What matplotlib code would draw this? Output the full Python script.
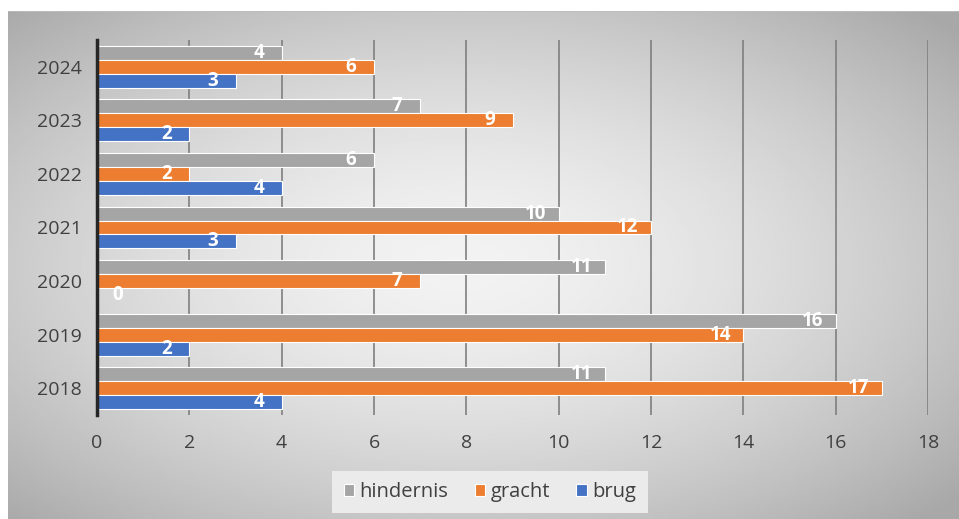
import numpy as np
import matplotlib.pyplot as plt

plt.rcParams['font.family'] = ['Open Sans', 'DejaVu Sans']

years = ['2018', '2019', '2020', '2021', '2022', '2023', '2024']
hindernis = [11, 16, 11, 10, 6, 7, 4]
gracht = [17, 14, 7, 12, 2, 9, 6]
brug = [4, 2, 0, 3, 4, 2, 3]

c_hindernis = '#a5a5a5'
c_gracht = '#ed7d31'
c_brug = '#4472c4'

fig = plt.figure(figsize=(9.59, 5.19), dpi=100)
fig.patch.set_facecolor('white')

# radial grey background of the chart box
bg = fig.add_axes([8 / 959, 0, 951 / 959, 1 - 11 / 519])
bg.set_axis_off()
yy, xx = np.mgrid[-1:1:300j, -1:1:500j]
r = np.sqrt(((xx + 0.05) / 1.0) ** 2 + (yy / 1.0) ** 2)
shade = 0.95 - 0.17 * np.clip(r, 0, 1.4) ** 1.6
bg.imshow(shade, cmap='gray', vmin=0, vmax=1, aspect='auto',
          extent=[0, 1, 0, 1], interpolation='bilinear')
bg.plot([0, 1], [1, 1], color='#bdbdbd', lw=1.2)

ax = fig.add_axes([97 / 959, 1 - 415 / 519, 831 / 959, 375 / 519])
ax.set_facecolor('none')

y = np.arange(len(years))
h = 0.26
series = [(hindernis, c_hindernis, 'hindernis', h),
          (gracht, c_gracht, 'gracht', 0),
          (brug, c_brug, 'brug', -h)]
for vals, col, name, off in series:
    bars = ax.barh(y + off, vals, height=h, color=col, edgecolor='white',
                   linewidth=0.8, label=name, zorder=3)
    for b, v in zip(bars, vals):
        xpos = max(v - 0.5, 0.45)
        ax.text(xpos, b.get_y() + h / 2, str(v), color='white',
                fontsize=13.5, fontweight='bold', ha='center', va='center',
                zorder=4)

ax.set_xlim(0, 18)
ax.set_ylim(-0.5, len(years) - 0.5)
ax.set_xticks(range(0, 19, 2))
ax.set_yticks(y)
ax.set_yticklabels(years)
ax.grid(axis='x', color='#7f7f7f', lw=1.2, zorder=1)
ax.tick_params(length=0, labelsize=14, colors='#404040')
ax.tick_params(axis='x', pad=14)
ax.tick_params(axis='y', pad=11)
for s in ['top', 'right', 'bottom']:
    ax.spines[s].set_visible(False)
ax.spines['left'].set_color('#262626')
ax.spines['left'].set_linewidth(2.5)
ax.spines['left'].set_zorder(5)

leg = fig.legend(loc='center', bbox_to_anchor=(490 / 959, 1 - 492 / 519),
                 ncol=3, frameon=True, fontsize=14.5, handlelength=0.5,
                 handleheight=0.5, handletextpad=0.3, columnspacing=1.3,
                 borderpad=0.55, labelcolor='#404040')
leg.get_frame().set_facecolor('#ebebeb')
leg.get_frame().set_edgecolor('none')
leg.get_frame().set_alpha(1)
leg.get_frame().set_boxstyle('square', pad=0)

fig.savefig('out.png', dpi=100)
